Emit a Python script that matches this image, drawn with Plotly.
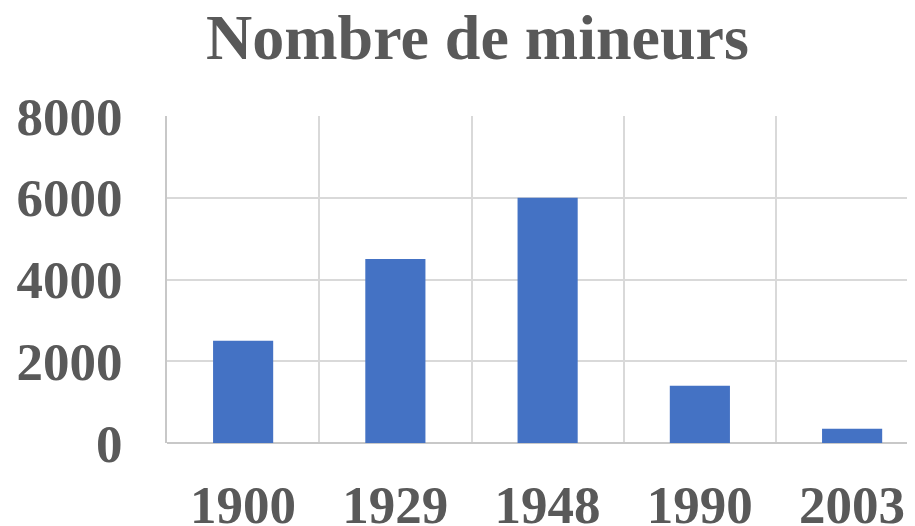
import plotly.graph_objects as go

categories = ["1900", "1929", "1948", "1990", "2003"]
values = [2500, 4500, 6000, 1400, 350]
y_ticks = [0, 2000, 4000, 6000, 8000]

text_color = "#595959"
font_family = "Liberation Serif, Times New Roman, serif"
grid_color = "#D9D9D9"
axis_color = "#C8C8C8"

x_pos = list(range(len(categories)))

fig = go.Figure(go.Bar(
    x=x_pos, y=values, width=0.395,
    marker=dict(color="#4472C4", line=dict(width=0)),
))

# page body has an 8px margin, so the figure is sized to fill the window from (8, 8)
fig.update_layout(
    width=907, height=518,
    margin=dict(l=159, r=0, t=108, b=83, autoexpand=False),
    paper_bgcolor="white", plot_bgcolor="white",
    showlegend=False,
    title=dict(
        text="<b>Nombre de mineurs</b>",
        x=0.5176, xref="container", xanchor="center",
        y=0.944, yref="container", yanchor="middle",
        font=dict(family=font_family, size=64, color=text_color),
    ),
    font=dict(family=font_family, color=text_color),
)

fig.update_xaxes(
    range=[-0.5, 4.413],
    tickvals=x_pos,
    ticktext=[f"<b>{c}</b>" for c in categories],
    tickfont=dict(family=font_family, size=53, color=text_color),
    showgrid=False,
    ticks="",
    ticklabelstandoff=26,
    automargin=False,
    minor=dict(tick0=0.5, dtick=1, showgrid=True, gridcolor=grid_color, gridwidth=2, ticks=""),
    showline=False,
    zeroline=False,
)

fig.update_yaxes(
    range=[0, 8000],
    tickvals=y_ticks,
    ticktext=[f"<b>{v}</b>" for v in y_ticks],
    tickfont=dict(family=font_family, size=53, color=text_color),
    showgrid=True, gridcolor=grid_color, gridwidth=2,
    zeroline=True, zerolinecolor=axis_color, zerolinewidth=2,
    ticks="",
    ticklabelstandoff=32,
    automargin=False,
    showline=True, linecolor=axis_color, linewidth=2,
)

fig.write_html("out.html")
